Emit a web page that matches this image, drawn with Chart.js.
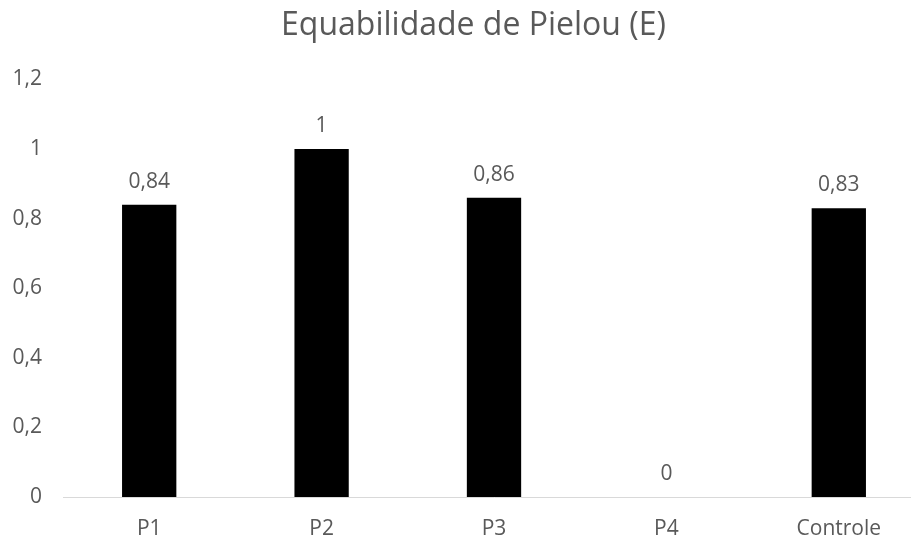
<!DOCTYPE html>
<html>
<head>
<meta charset="utf-8">
<script src="https://cdn.jsdelivr.net/npm/chart.js@4/dist/chart.umd.min.js"></script>
<style>
  html, body { margin: 0; padding: 0; background: #fff; overflow: hidden; }
  #wrap { position: relative; width: 947px; height: 542px; }
</style>
</head>
<body>
<div id="wrap"><canvas id="c"></canvas></div>
<script>
const categories = ["P1", "P2", "P3", "P4", "Controle"];
const values = [0.84, 1, 0.86, 0, 0.83];
const yTicks = [0, 0.2, 0.4, 0.6, 0.8, 1, 1.2];
const titleText = "Equabilidade de Pielou (E)";

const fmt = v => String(Math.round(v * 100) / 100).replace('.', ',');
const FONT = "'Open Sans', sans-serif";
const TXT = '#595959';

const labelPlugin = {
  id: 'barLabels',
  afterDatasetsDraw(chart) {
    const ctx = chart.ctx;
    const meta = chart.getDatasetMeta(0);
    ctx.save();
    ctx.font = "21px " + FONT;
    ctx.fillStyle = TXT;
    ctx.textAlign = 'center';
    ctx.textBaseline = 'middle';
    meta.data.forEach((bar, i) => {
      ctx.fillText(fmt(values[i]), bar.x, bar.y - 23);
    });
    ctx.restore();
  }
};

new Chart(document.getElementById('c'), {
  type: 'bar',
  data: {
    labels: categories,
    datasets: [{
      data: values,
      backgroundColor: '#000000',
      borderWidth: 0,
      categoryPercentage: 1,
      barPercentage: 0.315,
      yAxisID: 'y'
    }]
  },
  options: {
    responsive: true,
    maintainAspectRatio: false,
    animation: false,
    layout: { padding: { left: 0, right: 0, top: 0, bottom: 0 } },
    plugins: {
      legend: { display: false },
      tooltip: { enabled: false },
      title: {
        display: true,
        text: titleText,
        color: TXT,
        font: { family: FONT, size: 32, weight: 'normal' },
        padding: { top: 7, bottom: 34 }
      }
    },
    scales: {
      x: {
        grid: { display: false, drawTicks: false },
        border: { display: true, color: '#d9d9d9', width: 1 },
        ticks: { color: TXT, font: { family: FONT, size: 21 }, padding: 19 },
        afterFit(s) { s.height = 45; }
      },
      y: {
        position: 'left',
        min: 0,
        max: 1.2,
        afterBuildTicks(s) { s.ticks = yTicks.map(v => ({ value: v })); },
        grid: { display: false, drawTicks: false },
        border: { display: false },
        ticks: {
          color: TXT,
          font: { family: FONT, size: 21 },
          padding: 21,
          callback: v => fmt(v)
        },
        afterFit(s) { s.width = 63; }
      },
      yRight: {
        position: 'right',
        display: true,
        min: 0,
        max: 1.2,
        grid: { display: false, drawTicks: false },
        border: { display: false },
        ticks: { display: false },
        afterFit(s) { s.width = 22; }
      }
    }
  },
  plugins: [labelPlugin]
});
</script>
</body>
</html>
